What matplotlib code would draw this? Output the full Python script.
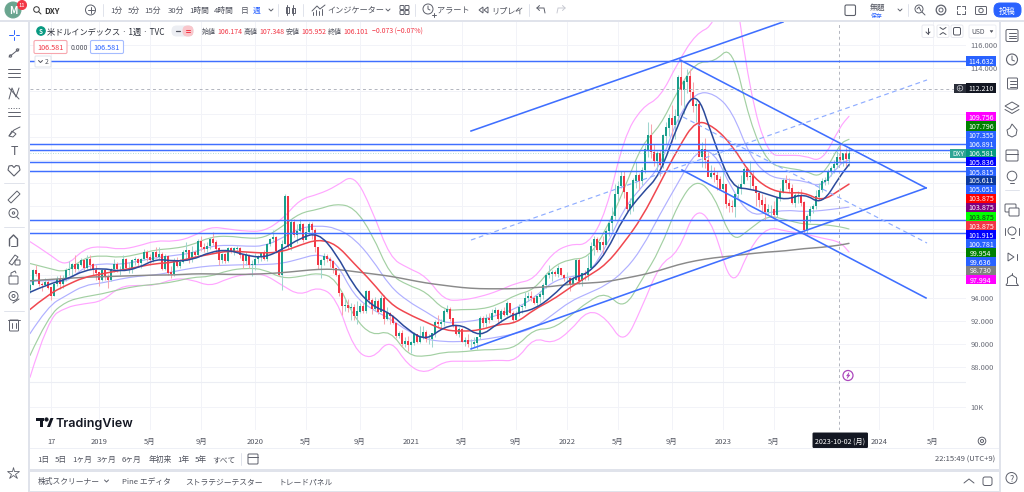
import matplotlib
matplotlib.use('Agg')
import matplotlib.pyplot as plt
from matplotlib.patches import Rectangle, Circle, FancyBboxPatch, Polygon, PathPatch
from matplotlib.path import Path

plt.rcParams['font.family'] = ['Noto Sans CJK JP', 'DejaVu Sans']

# weekly closes (week 0 = late July 2018)
closes_2018 = [94.7,95.1,96.4,96.1,95.2,95.1,95.4,94.9,94.2,95.2,95.6,95.2,95.7,96.4,96.5,96.9,96.5,96.9,97.3,96.6,97.4,96.9,96.4,96.2]
closes_2019 = [95.6,96.4,95.8,95.6,96.5,96.9,96.5,96.5,97.4,96.6,96.6,97.3,97.4,97.0,97.4,98.0,97.5,97.3,98.0,97.6,97.8,96.5,97.6,96.2,96.1,97.3,96.8,97.1,98.0,98.1,97.5,98.0,97.7,98.9,98.4,98.3,98.5,99.1,98.8,98.3,97.3,97.8,97.2,98.3,98.0,98.3,98.3,97.7,97.2,97.7,96.9,96.9]
closes_2020 = [97.4,97.6,97.9,97.4,98.7,99.1,99.3,98.1,96.0,98.7,102.8,98.4,100.6,99.5,99.8,100.4,99.0,99.7,100.4,99.9,98.4,96.9,97.3,97.6,97.4,97.2,96.6,96.0,94.4,93.3,93.4,93.1,93.2,92.4,92.8,93.3,92.9,94.6,93.8,93.0,93.7,92.8,94.0,92.2,92.7,92.4,91.8,90.7,90.9,90.0,90.2,89.9]
closes_2021 = [90.1,90.8,90.2,90.6,91.0,90.4,90.4,90.9,91.9,91.7,91.9,92.8,93.0,92.2,91.6,90.9,91.3,90.2,90.3,90.0,90.0,90.1,90.6,92.2,91.8,92.2,92.1,92.7,92.9,92.2,92.8,92.5,93.5,92.7,92.1,92.6,93.2,93.3,94.0,94.1,94.0,93.6,94.1,94.3,95.1,96.0,96.1,96.2,96.1,96.6,96.0,95.7]
closes_2022 = [95.7,95.2,95.6,97.3,95.5,96.1,96.0,96.6,98.5,99.1,98.2,98.8,98.6,99.8,100.5,101.1,103.0,103.7,104.6,103.2,101.7,102.1,104.2,104.7,104.2,105.1,106.9,108.1,106.7,105.9,106.6,105.6,108.1,108.8,109.6,109.0,109.8,113.2,112.1,112.8,113.3,111.9,110.7,110.8,106.3,106.9,106.0,104.5,104.8,104.7,104.3,103.5]
closes_2023 = [103.9,102.2,102.0,101.9,103.0,103.6,103.9,105.2,104.5,104.6,103.7,103.1,102.5,102.1,101.5,101.7,101.7,101.2,102.7,103.2,104.2,104.0,103.5,102.3,102.9,102.9,102.3,99.9,101.1,101.7,102.0,102.8,103.4,104.1,104.2,105.0,105.3,105.6,106.2,106.0,106.6,106.1,106.6]

highs_2018 = [95.0,95.3,96.5,96.9,96.2,95.4,95.7,95.6,94.9,95.3,95.9,96.0,96.0,96.6,97.2,97.0,97.7,97.0,97.5,97.4,97.7,97.7,97.0,96.9]
highs_2019 = [96.3,96.5,96.5,96.1,96.6,97.4,97.1,96.8,97.7,97.5,97.1,97.4,97.6,97.5,97.5,98.3,98.2,97.8,98.0,98.4,98.4,98.0,97.8,97.7,96.8,97.5,97.6,97.4,98.2,98.9,98.2,98.5,98.2,99.1,99.4,98.8,98.9,99.3,99.7,99.0,98.4,97.9,97.9,98.4,98.4,98.4,98.5,98.4,97.6,98.0,97.8,97.3]
highs_2020 = [97.9,97.7,98.0,98.2,98.8,99.2,99.9,99.4,98.3,99.0,103.0,102.5,100.9,100.9,100.4,100.9,100.5,100.2,100.6,100.6,100.1,98.4,97.4,97.9,97.8,97.6,97.3,96.6,96.2,94.5,94.0,93.9,93.6,93.5,93.7,93.6,93.6,94.7,94.7,94.0,94.1,93.9,94.3,94.3,93.2,92.8,92.5,91.9,91.1,91.2,90.6,90.7]
highs_2021 = [90.3,91.0,90.9,91.6,91.6,91.2,90.9,90.9,92.1,92.5,92.2,93.0,93.4,93.2,92.2,91.6,91.5,91.4,90.6,90.9,90.4,90.6,90.6,92.4,92.4,92.6,92.7,93.0,93.2,93.0,93.0,93.2,93.7,93.6,92.9,92.9,93.5,93.5,94.5,94.5,94.6,94.2,94.2,94.6,95.3,96.2,96.9,96.4,96.4,96.9,96.6,96.1]
highs_2022 = [96.3,95.8,95.9,97.4,97.5,96.1,96.4,97.7,98.9,99.4,99.3,98.9,99.4,100.0,100.8,101.9,103.9,104.2,105.0,105.0,102.1,102.7,104.4,105.8,104.9,105.4,107.3,109.3,109.1,107.4,106.8,106.9,108.3,109.3,110.0,110.8,110.4,113.4,114.8,113.0,113.9,113.9,112.8,111.2,111.1,107.6,107.9,106.7,105.6,105.4,105.0,104.6]
highs_2023 = [105.6,103.9,102.6,102.5,103.0,103.9,104.7,105.4,105.4,105.9,105.1,103.7,103.3,103.0,102.8,102.2,102.1,102.4,102.8,103.6,104.4,104.7,104.4,103.9,103.1,103.3,103.5,102.4,101.3,102.0,102.2,103.4,104.0,104.4,104.5,105.2,105.5,106.0,106.8,107.3,106.6,107.0,107.1]

lows_2018 = [94.1,94.4,95.1,95.9,95.0,94.6,95.0,94.8,93.8,94.2,95.0,94.8,94.9,95.5,96.0,95.9,96.3,96.4,96.8,96.4,96.5,96.5,96.0,95.6]
lows_2019 = [95.0,95.5,95.6,94.9,95.5,96.3,96.3,96.0,96.4,96.5,96.2,96.2,96.9,96.7,96.6,97.3,97.2,96.9,97.1,97.5,97.4,96.4,96.4,96.0,95.7,95.9,96.7,96.6,97.0,97.4,97.0,97.1,97.5,97.6,98.1,98.0,98.0,98.3,98.6,97.9,96.9,97.0,97.0,97.1,97.9,97.7,98.0,97.5,96.6,96.9,96.6,95.9]
lows_2020 = [96.4,97.0,97.2,97.3,97.2,98.5,98.9,97.9,95.9,94.7,98.7,98.3,98.2,99.3,98.8,99.7,98.9,99.1,99.5,99.1,98.0,96.5,95.7,96.9,97.1,96.7,96.2,95.9,94.2,92.5,92.9,92.8,92.1,92.1,91.7,92.7,92.7,92.7,93.5,92.6,92.9,92.6,92.8,91.7,92.1,91.7,91.7,90.5,90.5,89.7,89.7,89.4]
lows_2021 = [89.2,89.9,90.1,90.1,90.4,90.2,90.0,89.7,90.6,91.4,91.4,91.6,92.7,92.0,91.5,90.8,90.6,90.2,89.8,89.7,89.6,89.7,89.6,90.4,91.5,91.5,91.8,92.1,92.6,91.8,91.9,92.4,92.4,92.6,91.9,92.1,92.4,92.7,93.1,93.7,93.7,93.5,93.3,93.6,93.9,94.9,95.7,95.5,95.9,95.8,95.9,95.5]
lows_2022 = [95.1,94.6,95.2,95.6,95.2,95.0,95.6,95.6,96.5,97.7,98.0,98.1,97.7,98.6,99.4,99.8,100.8,102.4,103.6,102.7,101.4,101.3,101.6,103.6,103.4,103.8,104.9,106.3,106.2,105.5,105.0,104.6,105.3,107.4,108.1,107.6,107.8,109.3,110.8,110.0,111.8,111.1,110.2,109.3,110.2,105.4,105.3,105.3,104.4,104.1,103.4,103.4]
lows_2023 = [103.4,101.8,101.5,101.5,101.0,102.7,103.0,103.9,104.3,103.5,103.4,102.0,101.9,101.6,100.8,101.2,101.0,100.8,101.0,102.4,103.1,103.5,103.2,102.2,101.9,102.3,102.0,99.6,99.6,100.6,101.4,101.7,102.5,103.2,103.8,103.9,104.6,104.9,105.3,105.7,105.5,105.5,105.5]

closes = closes_2018 + closes_2019 + closes_2020 + closes_2021 + closes_2022 + closes_2023
highs = highs_2018 + highs_2019 + highs_2020 + highs_2021 + highs_2022 + highs_2023
lows = lows_2018 + lows_2019 + lows_2020 + lows_2021 + lows_2022 + lows_2023

# indicator lines, one value every 6 weeks plus the last bar
ma_weeks = list(range(1, 272, 6)) + [274]
ma_red = [93.0,94.3,95.1,95.8,96.1,96.4,96.7,97.0,97.1,97.5,97.8,98.1,98.0,97.9,98.0,98.6,99.1,98.7,97.0,95.4,93.5,92.6,91.9,91.2,91.1,91.2,91.7,91.8,93.0,93.8,94.9,95.9,96.9,98.8,101.0,104.0,107.0,109.5,108.9,107.3,104.8,103.5,103.1,103.2,102.4,103.4,103.9]
ma_navy = [94.5,95.2,95.6,96.4,96.6,96.3,96.6,97.4,97.2,97.3,98.0,98.2,97.7,97.5,98.2,99.2,99.7,97.9,95.0,93.3,92.7,91.2,90.3,91.5,91.7,90.6,91.8,92.7,93.0,94.1,95.7,96.1,97.9,101.1,103.1,104.7,109.2,112.3,107.6,103.6,103.5,103.0,102.5,103.1,102.1,104.6,105.6]
ma_gray = [95.5,95.6,95.7,95.8,95.85,95.9,95.95,96.0,96.0,96.1,96.1,96.05,96.05,96.1,96.2,96.35,96.5,96.5,96.3,96.1,95.9,95.6,95.3,95.1,94.9,94.8,94.8,94.8,94.9,95.0,95.2,95.3,95.4,95.7,96.0,96.4,96.9,97.25,97.5,97.65,97.85,98.0,98.1,98.3,98.4,98.6,98.75]
pink_up = [98.9,97.9,96.7,98.3,98.5,98.2,98.5,99.0,98.9,99.3,100.2,100.0,99.8,99.8,100.8,102.6,103.0,103.7,104.8,101.7,97.5,96.6,95.9,93.8,93.8,94.1,94.6,95.3,95.6,97.9,98.7,98.6,101.4,108.0,110.6,111.4,114.5,117.0,117.7,123.0,111.8,106.4,106.4,106.4,105.8,108.9,109.8]
green_up = [97.0,96.6,96.2,97.5,97.7,97.5,97.8,98.2,98.3,98.6,99.3,99.4,99.2,99.2,100.2,101.4,101.7,102.2,101.9,99.6,96.0,95.1,94.55,92.9,93.0,93.0,93.4,94.3,94.7,96.7,97.4,97.45,99.9,103.4,107.4,108.9,112.1,114.55,114.5,116.0,109.2,105.7,105.3,105.1,104.4,107.45,107.8]
blue_up = [95.4,95.6,95.3,96.7,97.0,96.9,97.2,97.5,97.7,97.9,98.5,98.6,98.5,98.5,99.2,100.1,100.3,100.1,99.2,97.4,95.0,93.7,92.8,91.8,91.9,92.1,92.5,93.1,94.0,95.4,95.9,96.0,98.4,101.8,103.7,105.4,109.8,111.9,111.8,110.3,106.3,104.6,104.3,104.2,103.6,105.7,106.0]
blue_lo = [90.9,93.3,94.2,95.1,95.3,95.65,95.9,96.0,96.3,96.6,96.8,96.85,96.9,96.9,97.0,97.4,97.85,97.2,94.2,93.0,92.2,91.1,90.4,90.2,90.2,90.35,90.6,90.9,91.4,92.5,93.7,94.4,95.1,96.3,98.3,101.3,104.0,106.8,106.8,103.4,101.2,101.4,101.65,101.5,101.6,101.8,101.9]
green_lo = [89.0,92.4,93.7,94.1,94.35,94.75,95.05,95.2,95.4,95.8,95.85,96.4,96.6,96.5,95.7,95.85,96.2,95.7,92.3,90.7,91.2,89.0,88.9,89.3,89.3,89.5,89.5,89.7,91.3,91.3,92.4,93.7,94.5,93.0,95.6,98.2,102.2,104.4,103.0,98.8,100.0,101.2,100.8,100.4,100.4,100.2,100.0]
pink_lo = [87.1,92.2,93.2,93.5,93.7,95.0,95.1,95.1,95.7,95.6,95.0,95.7,96.1,96.1,95.1,94.2,95.0,94.1,89.5,88.6,90.5,88.1,87.4,88.5,88.5,88.5,88.6,88.5,90.6,90.0,91.1,93.0,92.3,89.9,93.2,97.0,97.9,102.0,100.3,94.6,98.4,100.2,99.8,99.6,99.2,98.9,98.0]

# horizontal levels and drawn trend lines (week, price)
levels = [114.632, 107.355, 106.891, 105.815, 105.051, 100.781, 99.636]
trend_solid = [([148, 252], [108.52, 118.0]),
               ([217.67, 299.67], [114.7, 103.57]),
               ([148, 299.67], [89.57, 103.57]),
               ([218.33, 299.67], [105.13, 94.0])]
trend_dashed = [([148, 300], [99.04, 112.96]),
                ([218.67, 300], [109.74, 98.78])]

tick_weeks = [8, 24, 41, 58, 76, 93, 111, 128, 145, 163, 180, 197, 215, 232, 249, 284, 302]
tick_labels = ['17', '2019', '5月', '9月', '2020', '5月', '9月', '2021', '5月', '9月', '2022', '5月', '9月', '2023', '5月', '2024', '5月']
price_ticks = [116, 114, 112, 110, 108, 106, 104, 102, 100, 98, 96, 94, 92, 90, 88]
price_labels = ['116.000', '114.000', '', '', '', '', '', '', '', '', '', '94.000', '92.000', '90.000', '88.000']
last_price = 106.581
cursor_price = 112.21
cursor_week = 270.67

# the stacked price tags on the right scale
tag_values = ['114.632', '112.210', '109.756', '107.796', '107.355', '106.891', '106.581', '105.836', '105.815', '105.611', '105.051',
              '103.875', '103.875', '103.875', '103.875', '101.915', '100.781', '99.954', '99.636', '98.730', '97.994']
tag_colors = ['#2962ff', '#131722', '#ff00ff', '#008000', '#2962ff', '#2962ff', '#089981', '#0000ff', '#2962ff', '#0d3a9e', '#2962ff',
              '#ff0000', '#800080', '#00ff00', '#f23645', '#0000ff', '#2962ff', '#008000', '#2962ff', '#808080', '#ff00ff']
tag_y = [61, 88, 116.5, 126, 135.3, 144.3, 153.3, 161.8, 171.7, 180.3, 189.3, 198.3, 207.3, 216.7, 225.7, 234.7, 243.7, 252.7, 261.7, 270.3, 279.7]

GRAY = '#5d606b'
BLUE = '#2962ff'
PX_W, PX_H = 1024, 492

fig = plt.figure(figsize=(PX_W / 100, PX_H / 100), dpi=100, facecolor='white')

# back layer: panel gaps
back = fig.add_axes([0, 0, 1, 1], zorder=0)
back.set_xlim(0, PX_W)
back.set_ylim(PX_H, 0)
back.axis('off')
band = '#e0e3eb'
back.add_patch(Rectangle((0, 20), PX_W, 2.4, color=band, lw=0))
back.add_patch(Rectangle((27.5, 20), 2, PX_H, color=band, lw=0))
back.add_patch(Rectangle((998.5, 20), 2.6, PX_H, color=band, lw=0))
back.add_patch(Rectangle((30, 447.6), 969, 1, color='#eef0f6', lw=0))
back.add_patch(Rectangle((30, 468.5), 969, 3, color=band, lw=0))
back.add_patch(Rectangle((30, 490.6), 969, 1.4, color=band, lw=0))

# price chart, scaled 3 px a week and 11.5 px a dollar
ax = fig.add_axes([30 / PX_W, 1 - 430 / PX_H, 936 / PX_W, 408 / PX_H], zorder=1)
ax.set_xlim(1, 313)
ax.set_ylim(82.52, 118.0)
ax.set_facecolor('white')
for s in ax.spines.values():
    s.set_visible(False)
ax.yaxis.tick_right()
ax.set_yticks(price_ticks + [84.52])
ax.set_yticklabels(price_labels + ['10K'], fontsize=5.4, color='#6a6d78')
ax.set_xticks(tick_weeks)
ax.set_xticklabels(tick_labels, fontsize=5.4, color='#50535e')
ax.tick_params(length=0, pad=3)
ax.tick_params(axis='x', pad=6)
ax.grid(True, color='#f2f3f8', lw=0.7)
ax.set_axisbelow(True)
ax.axhline(86.7, color='#eceef4', lw=0.8, zorder=1)


def curve(xs, ys, color, lw, z):
    # rounded path through the read values, indicators are smooth in the chart
    verts = [(xs[0], ys[0])]
    codes = [Path.MOVETO]
    for i in range(1, len(xs) - 1):
        verts += [(xs[i], ys[i]), ((xs[i] + xs[i + 1]) / 2, (ys[i] + ys[i + 1]) / 2)]
        codes += [Path.CURVE3, Path.CURVE3]
    verts.append((xs[-1], ys[-1]))
    codes.append(Path.LINETO)
    ax.add_patch(PathPatch(Path(verts, codes), fc='none', ec=color, lw=lw, zorder=z, capstyle='round'))


for band_vals, col in [(pink_up, '#ffa6ff'), (pink_lo, '#ffa6ff'), (green_up, '#a3d0a3'), (green_lo, '#a3d0a3'),
                       (blue_up, '#b0b0ff'), (blue_lo, '#b0b0ff')]:
    curve(ma_weeks, band_vals, col, 0.85, 2)

# candles, open = previous close
weeks = list(range(len(closes)))
opens = [closes[0] - 0.3] + closes[:-1]
candle_col = ['#1a9e8c' if c >= o else '#f23645' for o, c in zip(opens, closes)]
wick_col = ['#9fd6cf' if c >= o else '#f8a6ae' for o, c in zip(opens, closes)]
ax.vlines(weeks, lows, highs, colors=wick_col, lw=0.75, zorder=3)
ax.bar(weeks, [abs(c - o) + 0.03 for o, c in zip(opens, closes)], bottom=[min(o, c) for o, c in zip(opens, closes)],
       width=0.66, color=candle_col, lw=0, zorder=4)

curve(ma_weeks, ma_gray, '#8a8a8a', 1.05, 5)
curve(ma_weeks, ma_red, '#f0474f', 1.1, 5)
curve(ma_weeks, ma_navy, '#2b4a9b', 1.1, 5)

ax.axhline(cursor_price, color='#b2b5be', lw=0.7, ls=(0, (3, 3)), zorder=5)
ax.axhline(last_price, color='#9ad6cc', lw=0.6, ls=(0, (1, 2)), zorder=5)
ax.axvline(cursor_week, color='#b2b5be', lw=0.7, ls=(0, (3, 3)), zorder=5)
for lv in levels:
    ax.axhline(lv, color='#3f6fff', lw=1.05, zorder=6)
for xs, ys in trend_solid:
    ax.plot(xs, ys, color='#3f6fff', lw=1.15, zorder=6)
for xs, ys in trend_dashed:
    ax.plot(xs, ys, color='#8fadff', lw=0.85, ls=(0, (4, 3)), zorder=6)

# top layer: toolbars and tags, in pixels
ui = fig.add_axes([0, 0, 1, 1], zorder=2)
ui.set_xlim(0, PX_W)
ui.set_ylim(PX_H, 0)
ui.axis('off')
ui.patch.set_alpha(0)


def label(x, y, s, size=5.6, color='#50535e', ha='left', **kw):
    ui.text(x, y, s, fontsize=size, color=color, ha=ha, va='center_baseline', **kw)


def line(xs, ys, color=GRAY, lw=0.7, **kw):
    ui.plot(xs, ys, color=color, lw=lw, solid_capstyle='round', **kw)


def ring(x, y, r, color=GRAY, lw=0.7, fill='none'):
    ui.add_patch(Circle((x, y), r, ec=color, fc=fill, lw=lw))


def box(x, y, w, h, ec=GRAY, fc='none', lw=0.7, r=1.5):
    ui.add_patch(FancyBboxPatch((x + r, y + r), w - 2 * r, h - 2 * r, boxstyle='round,pad=%g,rounding_size=%g' % (r, r),
                                ec=ec, fc=fc, lw=lw))


# top toolbar
ring(13, 10, 8, color='#6aa58f', fill='#6aa58f')
label(13, 10, 'M', 7, 'white', ha='center', fontweight='bold')
ring(22, 5, 4.5, color='#f23645', fill='#f23645')
label(22, 5, '11', 4.2, 'white', ha='center')
ring(36.5, 9.5, 2.8, color='#333')
line([38.6, 41], [11.6, 14], color='#333')
label(44, 10, 'DXY', 5.8, '#333', fontweight='bold')
ring(90.5, 10, 5)
line([87.5, 93.5], [10, 10])
line([90.5, 90.5], [7, 13])
for sx in [103, 278, 303, 415, 529, 908]:
    line([sx, sx], [4, 16], color='#e0e3eb')
for tx, tt in [(116, '1分'), (134, '5分'), (153, '15分'), (176, '30分'), (199, '1時間'), (224, '4時間'), (244, '日')]:
    label(tx, 10, tt, ha='center')
label(257, 10, '週', color=BLUE, ha='center')
for cx in [271, 388, 900]:
    line([cx - 2, cx, cx + 2], [9, 11, 9])
line([287, 287], [5, 15])
line([293, 293], [5, 15])
ui.add_patch(Rectangle((285.5, 7), 3, 6, ec=GRAY, fc='white', lw=0.7))
ui.add_patch(Rectangle((291.5, 8), 3, 5, ec=GRAY, fc='white', lw=0.7))
line([312, 317, 320, 325], [11, 6, 9, 5])
for bx, bh in [(313, 3), (316, 5), (319, 4), (322, 6)]:
    line([bx, bx], [15, 15 - bh])
label(327, 10, 'インジケーター', 5.9)
for gx in [400, 405]:
    for gy in [7, 12]:
        box(gx, gy - 1.5, 4, 4, r=0.8)
ring(428, 9, 5)
line([428, 428, 430], [6, 9, 10])
line([432, 436], [15, 15])
line([434, 434], [13, 17])
label(437, 10, 'アラート', 5.9)
ui.add_patch(Polygon([[483, 7], [483, 13], [479, 10]], closed=True, ec=GRAY, fc='none', lw=0.7))
ui.add_patch(Polygon([[488, 7], [488, 13], [484, 10]], closed=True, ec=GRAY, fc='none', lw=0.7))
label(491, 10, 'リプレイ', 5.9)
line([516, 519], [11, 8])
line([537, 544, 545], [8, 8, 13])
line([537, 539.5], [8, 5.5])
line([537, 539.5], [8, 10.5])
line([565, 558, 557], [8, 8, 13], color='#c8cad2')
line([565, 562.5], [8, 5.5], color='#c8cad2')
line([565, 562.5], [8, 10.5], color='#c8cad2')
box(845, 5, 10.5, 10.5, lw=0.8)
label(877, 7, '無題', 5.6, ha='center')
label(877, 15.5, '保存', 4.2, BLUE, ha='center')
ring(919, 9, 4)
line([922, 925], [12, 15])
line([917, 919, 921], [9, 7, 11])
ring(941, 10, 2)
ring(941, 10, 4.8, lw=0.9)
for fx, fy, dx, dy in [(957, 6, 1, 1), (965, 6, -1, 1), (957, 14, 1, -1), (965, 14, -1, -1)]:
    line([fx, fx, fx + 3 * dx], [fy + 3 * dy, fy, fy])
box(975.5, 6.5, 11, 8, r=1)
ring(981, 10.5, 2.2)
box(994, 3, 27, 14, ec=BLUE, fc=BLUE, r=6)
label(1007.5, 10, '投稿', 6, 'white', ha='center')

# left toolbar
line([14, 14], [30, 33.5], color=BLUE)
line([14, 14], [36.5, 40], color=BLUE)
line([9, 12.5], [35, 35], color=BLUE)
line([15.5, 19], [35, 35], color=BLUE)
line([9, 19], [57, 49])
ring(10.5, 56, 1.2, fill='white')
ring(17.5, 50, 1.2, fill='white')
for ly in [69, 73, 77]:
    line([8, 20], [ly, ly])
line([9, 12, 16, 19], [99, 88, 97, 88])
line([9, 19], [88, 99])
for ly in [108, 112, 116]:
    line([8, 20], [ly, ly], ls=':' if ly == 108 else '-')
line([9, 14, 20], [136, 130, 127])
ui.add_patch(Polygon([[9, 136], [12, 131], [16, 134], [13, 137]], closed=True, ec=GRAY, fc='none', lw=0.7))
label(14, 150, 'T', 9, GRAY, ha='center')
ui.add_patch(Polygon([[14, 176], [8, 170], [9, 166], [12, 165.5], [14, 167.5], [16, 165.5], [19, 166], [20, 170]],
                     closed=True, ec=GRAY, fc='none', lw=0.8))
for sy in [183, 227, 311]:
    line([4, 24], [sy, sy], color='#e0e3eb')
ui.add_patch(Polygon([[8, 200], [17, 191], [20, 194], [11, 203]], closed=True, ec=GRAY, fc='none', lw=0.7))
ring(13.5, 213, 4.5)
ring(13.5, 213, 1.2)
line([16.5, 19], [216.5, 219])
line([9.5, 9.5, 13.5, 17.5, 17.5], [246, 239, 235, 239, 246], lw=1)
line([11, 16], [246, 246], lw=0.7)
ui.add_patch(Polygon([[9, 263], [15, 255], [18, 257], [12, 265]], closed=True, ec=GRAY, fc='none', lw=0.7))
box(15, 260, 5, 5, r=0.8)
box(9, 276, 9, 8, r=0.8)
line([11, 11, 15, 16], [276, 273, 271, 273])
ring(13.5, 296, 4.5)
ring(13.5, 296, 1.5)
line([13, 19], [303, 299])
box(9.5, 320, 9, 11, r=0.8)
line([8, 20], [320, 320])
line([12, 12], [323, 328])
line([16, 16], [323, 328])
ui.plot([13], [473], marker='*', ms=9, mfc='none', mec=GRAY, mew=0.6)

# right sidebar
box(1006, 29.5, 12, 12, r=1.5)
for ly in [33, 35.5, 38]:
    line([1008.5, 1015.5], [ly, ly])
ring(1012, 59.5, 5.5, lw=0.8)
line([1012, 1012, 1014.5], [56, 60, 61])
box(1007.5, 78, 10, 11, r=1)
for ly in [81, 84, 87]:
    line([1010, 1016], [ly, ly])
ui.add_patch(Polygon([[1012, 102], [1019, 106], [1012, 110], [1005, 106]], closed=True, ec=GRAY, fc='none', lw=0.7))
line([1005, 1012, 1019], [109.5, 113.5, 109.5])
ui.add_patch(Polygon([[1012, 124], [1017, 130], [1016, 135], [1012, 137], [1008, 135], [1007, 130], [1010, 128]],
                     closed=True, ec=GRAY, fc='none', lw=0.7))
box(1006, 150, 12, 11, r=1)
line([1006, 1018], [153.5, 153.5])
ring(1012, 176, 4.8)
line([1010, 1014], [183, 183])
line([1005, 1019], [190, 190], color='#e0e3eb')
box(1005, 204, 11, 8, r=1)
box(1009, 208, 10, 8, r=1, fc='white')
ring(1012, 231, 4)
line([1010.5, 1013.5], [238, 238])
line([1005, 1005], [228, 235])
line([1019, 1019], [228, 235])
ui.add_patch(Polygon([[1008, 253], [1008, 261], [1014, 257]], closed=True, ec=GRAY, fc='none', lw=0.7))
line([1017, 1017], [254, 260])
line([1012, 1012], [273, 274.5])
line([1006, 1007.5, 1007.5, 1012, 1016.5, 1016.5, 1018], [285, 283, 278, 275, 278, 283, 285])
line([1006, 1018], [285, 285])
ring(1011.5, 478, 5.5)
label(1011.5, 478, '?', 6.5, GRAY, ha='center')

# legend lines
ring(41, 31, 4.3, color='#089981', fill='#089981')
label(41, 31, 'S', 4.5, 'white', ha='center', fontweight='bold')
label(47, 31, '米ドルインデックス · 1週 · TVC', 5.9, '#2a2e39')
box(172, 26, 21, 10, ec='#eceef3', fc='#eceef3', r=4.5)
box(183, 26, 10, 10, ec='#f9c6cb', fc='#f9c6cb', r=4.5)
line([176, 180], [31, 31], color='#50535e', lw=0.9)
line([186, 190], [30, 30], color='#f23645', lw=0.7)
line([186, 190], [32, 32], color='#f23645', lw=0.7)
for nx, nm, vx, vv in [(202, '始値', 217, '106.174'), (244, '高値', 259, '107.348'), (286, '安値', 301, '105.952'), (328, '終値', 343, '106.101')]:
    label(nx, 31, nm, 5, '#50535e')
    label(vx, 31, vv, 5, '#f23645')
label(372, 31, '−0.073 (−0.07%)', 5, '#f23645')
box(34, 40.5, 33, 13, ec='#f7a6ae', fc='white', lw=0.8, r=1.5)
label(50.5, 47, '106.581', 5.2, '#f23645', ha='center')
label(71, 47, '0.000', 5, '#50535e')
box(90.5, 40.5, 33, 13, ec='#a5bcff', fc='white', lw=0.8, r=1.5)
label(107, 47, '106.581', 5.2, BLUE, ha='center')
box(35, 56, 16, 11, ec='#e0e3eb', fc='white', r=1)
line([38.5, 40.5, 42.5], [60.5, 62.5, 60.5], color='#50535e')
label(45, 61.5, '2', 5, '#50535e')

# buttons over the scale
for bx, by in [(922, 25), (937, 25), (951, 25)]:
    box(bx, by, 12, 12.5, ec='#e8e9ef', fc='white', r=1.5)
line([928, 928], [27.5, 34], color='#50535e')
line([926, 928, 930], [32, 34, 32], color='#50535e')
line([940, 943, 946], [27.5, 29.5, 27.5], color='#50535e')
line([940, 943, 946], [34.5, 32.5, 34.5], color='#50535e')
box(953.5, 27.5, 7, 7.5, ec='#50535e', r=1.5)
box(969, 25, 27, 13, ec='#eceef3', fc='white', r=1.5)
label(971, 31.5, 'USD', 4.9, '#50535e')
ui.add_patch(Polygon([[990, 30.5], [993, 30.5], [991.5, 32.5]], closed=True, ec='#50535e', fc='#50535e', lw=0.3))

# price tags
for ty, tv, tc in zip(tag_y, tag_values, tag_colors):
    ui.add_patch(Rectangle((966, ty - 4.6), 30, 9.2, color=tc, lw=0))
    txt = '#1c2b1c' if tc == '#00ff00' else 'white'
    label(981, ty, tv, 5.1, txt, ha='center')
ui.add_patch(Rectangle((950, 149), 16, 9, color='#2fa596', lw=0))
label(958, 153.3, 'DXY', 4.8, 'white', ha='center')
ui.add_patch(Rectangle((954, 83.5), 12, 9.5, color='#2a2e39', lw=0))
ring(960, 88.2, 2.8, color='#d0d2d8', lw=0.5)
label(960, 88.2, '+', 4.5, '#d0d2d8', ha='center')

# lightning mark, logo, bottom rows
ring(848, 375.5, 5, color='#ab47bc', lw=0.9)
ui.add_patch(Polygon([[849, 372.5], [846.5, 376], [848.2, 376], [847, 378.5], [850, 375], [848.3, 375]],
                     closed=True, fc='#ab47bc', ec='#ab47bc', lw=0.3))
ui.add_patch(Rectangle((36, 418), 8, 3, color='#131722', lw=0))
ui.add_patch(Rectangle((39.5, 418), 3.5, 9, color='#131722', lw=0))
ring(46.5, 419.5, 1.6, color='#131722', fill='#131722')
ui.add_patch(Polygon([[47, 427], [50.5, 418], [53.5, 418], [50, 427]], closed=True, color='#131722', lw=0))
label(56, 422.3, 'TradingView', 9, '#131722', fontfamily='Inter', fontweight='semibold')

box(813, 433, 54.5, 14.5, ec='#131722', fc='#131722', r=0.8)
label(840, 441, '2023-10-02 (月)', 5.1, 'white', ha='center')
ring(982, 441, 3.8)
ring(982, 441, 1.5)
for tx, tt in [(43, '1日'), (61, '5日'), (82, '1ヶ月'), (107, '3ヶ月'), (132, '6ヶ月'), (160, '年初来'), (183, '1年'), (201, '5年'), (224, 'すべて')]:
    label(tx, 459, tt, 5.6, ha='center')
line([241, 241], [453, 465], color='#e0e3eb')
box(248, 454, 10, 10, r=1)
line([248, 258], [457, 457])
label(995, 459, '22:15:49 (UTC+9)', 5.5, ha='right')
label(38, 481, '株式スクリーナー', 5.6)
line([104.5, 106.5, 108.5], [480, 482, 480])
label(122, 481, 'Pine エディタ', 5.6)
label(185, 481, 'ストラテジーテスター', 5.6)
label(278, 481, 'トレードパネル', 5.6)
line([964, 969, 974], [483, 479, 483])
box(983, 477, 9, 8.5, r=2)

fig.savefig('out.png', dpi=100, facecolor='white')
